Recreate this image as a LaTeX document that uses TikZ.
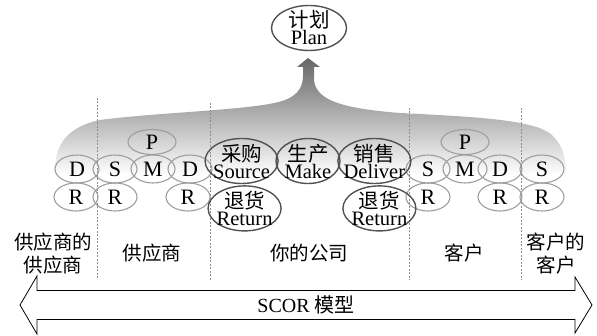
\documentclass[tikz,border=0pt]{standalone}
\usepackage{fontspec}
\setmainfont{Liberation Serif}
\newfontfamily\cjk{Noto Sans CJK SC}
\usetikzlibrary{shapes.geometric, positioning}
\newcommand{\zh}[1]{{\cjk #1}}

\begin{document}
\begin{tikzpicture}[x=1pt, y=-1pt,
        bigring/.style={ellipse, draw=black!68, line width=1.4pt, minimum width=73pt, minimum height=45pt, inner xsep=-9pt, inner ysep=-7pt, align=center, font=\fontsize{20.5}{17}\selectfont},
        smallring/.style={ellipse, draw=black!38, line width=1.1pt, minimum width=44pt, minimum height=28pt, inner sep=0pt, font=\fontsize{22}{22}\selectfont},
        divider/.style={draw=black!45, line width=0.8pt, dash pattern=on 2pt off 1.5pt},
        party/.style={align=center, font=\fontsize{19.5}{23}\selectfont}
    ]
        \useasboundingbox (0,0) rectangle (597,336);

        % Background arrow
        \shade[top color=black!60, bottom color=white]
            (308,58) -- (320,67) -- (314,67) -- (314,80)
            .. controls (316,98) and (335,108) .. (400,113)
            .. controls (480,117) and (535,120) .. (552,135)
            .. controls (562,145) and (566,155) .. (566,175)
            -- (55,175)
            .. controls (54,150) and (62,128) .. (100,120)
            .. controls (160,112) and (260,110) .. (285,100)
            .. controls (300,94) and (303,85) .. (303,75)
            -- (303,67) -- (297,67) -- cycle;

        % Dividers
        \draw[divider] (97,98) -- (97,280);
        \draw[divider] (210,103) -- (210,280);
        \draw[divider] (409,108) -- (409,280);
        \draw[divider] (521,108) -- (521,280);

        % Supplier side
        \node[smallring, minimum width=48pt, minimum height=25pt] (supP) at (152,142) {P};
        \node[smallring] (supsupD) at (77,169) {D};
        \node[smallring] (supS) at (115,169) {S};
        \node[smallring] (supM) at (153,169) {M};
        \node[smallring] (supD) at (190,169) {D};
        \node[smallring] (supsupR) at (76,197) {R};
        \node[smallring] (supR1) at (115,197) {R};
        \node[smallring] (supR2) at (188,197) {R};

        % Customer side
        \node[smallring, minimum width=48pt, minimum height=25pt] (cusP) at (465,142) {P};
        \node[smallring] (cusS) at (428,169) {S};
        \node[smallring] (cusM) at (465,169) {M};
        \node[smallring] (cusD) at (500,169) {D};
        \node[smallring] (cuscusS) at (542,169) {S};
        \node[smallring] (cusR1) at (428,197) {R};
        \node[smallring] (cusR2) at (500,197) {R};
        \node[smallring] (cuscusR) at (542,197) {R};

        % Your company
        \node[bigring, minimum width=75pt] (plan) at (309,28) {\zh{计划}\\Plan};
        \node[bigring, minimum width=64pt] (make) at (308,161) {\zh{生产}\\Make};
        \node[bigring, left=-3.5pt of make] (source) {\zh{采购}\\Source};
        \node[bigring, right=-3.5pt of make] (deliver) {\zh{销售}\\Deliver};
        \node[bigring, below=1pt of source, xshift=3pt] (sreturn) {\zh{退货}\\Return};
        \node[bigring, below=1pt of deliver, xshift=5pt] (dreturn) {\zh{退货}\\Return};

        % Labels
        \node[party] (supsup) at (53,254) {\zh{供应商的}\\\zh{供应商}};
        \node[party] (sup) at (152,253) {\zh{供应商}};
        \node[party] (company) at (309,253) {\zh{你的公司}};
        \node[party] (cus) at (464,253) {\zh{客户}};
        \node[party] (cuscus) at (556,254) {\zh{客户的}\\\zh{客户}};

        % Model arrow
        \draw[line width=0.8pt, fill=white] (20,305) -- (37,276) -- (37,290.5) -- (575,290.5) -- (575,277)
            -- (592,305) -- (575,333) -- (575,319.5) -- (37,319.5) -- (37,334) -- cycle;
        \node[font=\fontsize{20}{20}\selectfont] (scor) at (306,305) {SCOR \zh{模型}};
    \end{tikzpicture}
\end{document}
